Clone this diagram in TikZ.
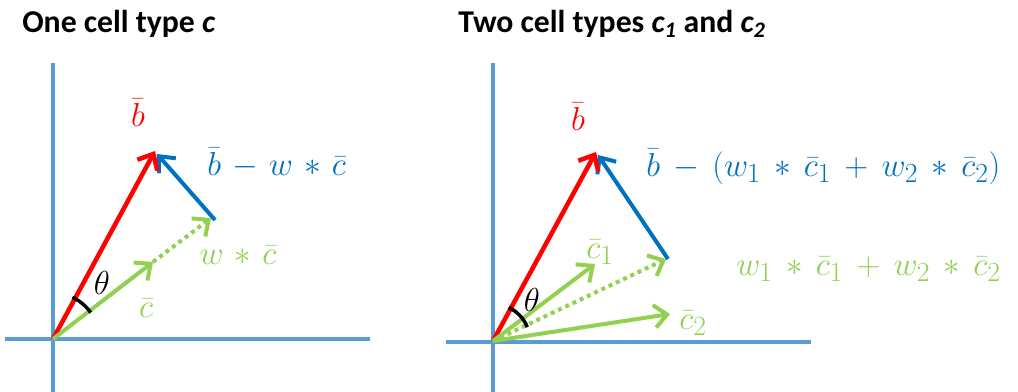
\documentclass[tikz,border=0pt]{standalone}
\usepackage{fontspec}
\setsansfont{Carlito}
\usetikzlibrary{arrows.meta,calc}
\newcommand\mylblspacing{\medmuskip=6mu plus 2mu minus 4mu\relax}
\newcommand\mywidespacing{\medmuskip=7.2mu plus 2mu minus 4mu\relax}
\newcommand\bigsub[1]{_{\mbox{\fontsize{21}{24}\selectfont$#1$}}}
\definecolor{axisblue}{RGB}{91,155,213}
\definecolor{vred}{RGB}{255,0,0}
\definecolor{vblue}{RGB}{0,112,192}
\definecolor{vgreen}{RGB}{146,208,80}
\begin{document}
\begin{tikzpicture}[x=0.75pt,y=-0.75pt,
  axisline/.style={draw=axisblue,line width=3pt},
  vec/.style={line width=3pt,-{Straight Barb[length=9.5pt,width=17pt]}},
  redvec/.style={vec,draw=vred,line width=3.4pt},
  bluevec/.style={vec,draw=vblue},
  greenvec/.style={vec,draw=vgreen},
  dotvec/.style={vec,draw=vgreen,dash pattern=on 3pt off 3pt},
  thetaarc/.style={draw=black,line width=2.6pt},
  title/.style={font=\sffamily\bfseries\fontsize{23.8}{28}\selectfont,anchor=base west,inner sep=0pt},
  lbl/.style={inner sep=0pt,font=\fontsize{28}{32}\selectfont\mylblspacing},
  widelbl/.style={inner sep=0pt,font=\fontsize{28}{32}\selectfont\mywidespacing},
]
\useasboundingbox (0,0) rectangle (1018,392);

% ---------- left panel ----------
\node[title] (t1) at (22,33) {One cell type \textit{c}};
\coordinate (O1) at (53,339);
\coordinate (B1) at (155,151);
\coordinate (P1) at (215,220);
\coordinate (Q1) at (157,154);
\coordinate (D1) at (211,218);
\coordinate (C1) at (153,262);
\coordinate (Vt1) at (53,63);  \coordinate (Vb1) at (53,392);
\coordinate (Hl1) at (5,339);  \coordinate (Hr1) at (370,339);
\draw[axisline] (Vt1) -- (Vb1);
\draw[axisline] (Hl1) -- (Hr1);
\draw[bluevec] (P1) -- (Q1);
\draw[dotvec] (C1) -- (D1);
\draw[redvec] (O1) -- (B1);
\draw[greenvec] (O1) -- (C1);
\draw[thetaarc] ($(O1)+(-65:46)$) arc[start angle=-65,end angle=-35,radius=46];
\node[lbl,text=vred] (lb1) at (138,113) {$\bar b$};
\node[lbl,text=vblue,anchor=west] (lr1) at (207,163) {$\bar b - w \ast \bar c$};
\node[lbl,text=vgreen] (lw1) at (238,255) {$w \ast \bar c$};
\node[lbl,text=vgreen] (lc1) at (146,308) {$\bar c$};
\node[lbl,text=black] (th1) at (102,283) {$\theta$};

% ---------- right panel ----------
\node[title] (t2) at (458,33) {Two cell types \textit{c\textsubscript{1}} and \textit{c\textsubscript{2}}};
\coordinate (O2) at (493,341);
\coordinate (B2) at (596,152);
\coordinate (P2) at (668,259);
\coordinate (Q2) at (598,155);
\coordinate (D2) at (666,259);
\coordinate (E1) at (595,264);
\coordinate (E2) at (670,314);
\coordinate (Vt2) at (493,63);  \coordinate (Vb2) at (493,392);
\coordinate (Hl2) at (446,342); \coordinate (Hr2) at (811,342);
\draw[axisline] (Vt2) -- (Vb2);
\draw[axisline] (Hl2) -- (Hr2);
\draw[bluevec] (P2) -- (Q2);
\draw[redvec] (O2) -- (B2);
\draw[dotvec] (O2) -- (D2);
\draw[greenvec] (O2) -- (E1);
\draw[greenvec] (O2) -- (E2);
\draw[thetaarc] ($(O2)+(-65:37)$) arc[start angle=-65,end angle=-22,radius=37];
\node[lbl,text=vred] (lb2) at (578,117) {$\bar b$};
\node[widelbl,text=vblue,anchor=west] (lr2) at (646,167) {$\bar b - (w\bigsub{1} \ast \bar c\bigsub{1} + w\bigsub{2} \ast \bar c\bigsub{2})$};
\node[widelbl,text=vgreen,anchor=west] (lw2) at (736,269) {$w\bigsub{1} \ast \bar c\bigsub{1} + w\bigsub{2} \ast \bar c\bigsub{2}$};
\node[lbl,text=vgreen] (lc21) at (600,252) {$\bar c\bigsub{1}$};
\node[lbl,text=vgreen] (lc22) at (693,323) {$\bar c\bigsub{2}$};
\node[lbl,text=black] (th2) at (532,300) {$\theta$};
\end{tikzpicture}
\end{document}
